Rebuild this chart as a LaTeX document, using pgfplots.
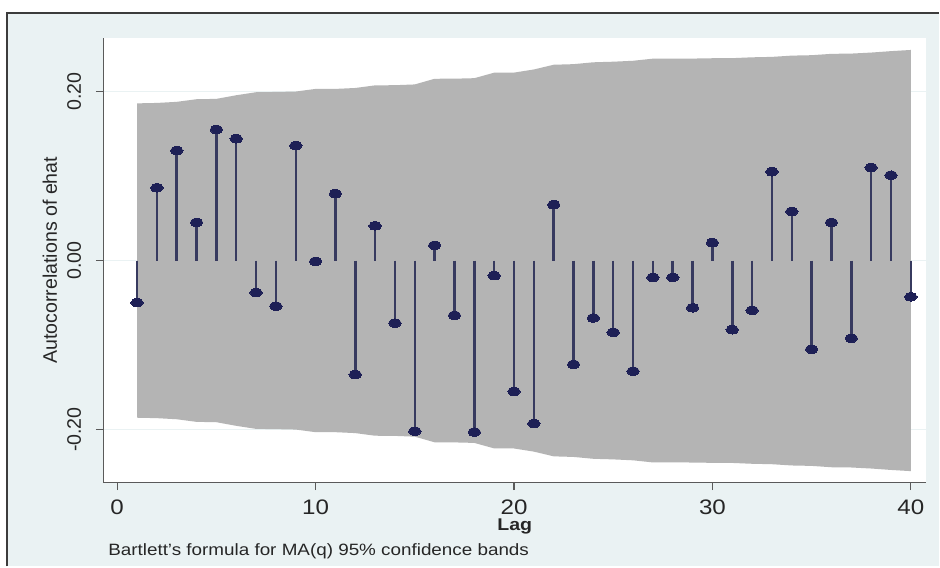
\documentclass[border=0pt]{standalone}
\usepackage{pgfplots}
\pgfplotsset{compat=1.18}
\usepackage{pgfplotstable}
\usepackage{graphicx}
\usepackage{fontspec}
\setmainfont{Liberation Sans}

\definecolor{bluish}{RGB}{234,242,243}
\definecolor{framegray}{RGB}{60,60,60}
\definecolor{axisgray}{RGB}{90,90,90}
\definecolor{bandgray}{RGB}{180,180,180}
\definecolor{markcol}{RGB}{30,32,86}
\definecolor{stemcol}{RGB}{55,58,95}

% autocorrelations
\pgfplotstableread{
lag acf
1 -0.050
2 0.086
3 0.130
4 0.045
5 0.155
6 0.144
7 -0.038
8 -0.054
9 0.136
10 -0.001
11 0.079
12 -0.135
13 0.041
14 -0.074
15 -0.202
16 0.018
17 -0.065
18 -0.203
19 -0.018
20 -0.155
21 -0.193
22 0.066
23 -0.123
24 -0.068
25 -0.085
26 -0.131
27 -0.020
28 -0.020
29 -0.056
30 0.021
31 -0.082
32 -0.059
33 0.105
34 0.058
35 -0.105
36 0.045
37 -0.092
38 0.110
39 0.101
40 -0.043
}\acfdata

% 95% confidence band outline: upper bound forward, lower bound back
\pgfplotstableread{
lag band
1 0.1860
2 0.1865
3 0.1878
4 0.1909
5 0.1913
6 0.1956
7 0.1992
8 0.1995
9 0.2000
10 0.2031
11 0.2031
12 0.2042
13 0.2073
14 0.2075
15 0.2084
16 0.2151
17 0.2152
18 0.2158
19 0.2223
20 0.2224
21 0.2261
22 0.2317
23 0.2324
24 0.2346
25 0.2353
26 0.2364
27 0.2389
28 0.2389
29 0.2390
30 0.2394
31 0.2395
32 0.2405
33 0.2410
34 0.2425
35 0.2430
36 0.2446
37 0.2449
38 0.2461
39 0.2478
40 0.2492
40 -0.2492
39 -0.2478
38 -0.2461
37 -0.2449
36 -0.2446
35 -0.2430
34 -0.2425
33 -0.2410
32 -0.2405
31 -0.2395
30 -0.2394
29 -0.2390
28 -0.2389
27 -0.2389
26 -0.2364
25 -0.2353
24 -0.2346
23 -0.2324
22 -0.2317
21 -0.2261
20 -0.2224
19 -0.2223
18 -0.2158
17 -0.2152
16 -0.2151
15 -0.2084
14 -0.2075
13 -0.2073
12 -0.2042
11 -0.2031
10 -0.2031
9 -0.2000
8 -0.1995
7 -0.1992
6 -0.1956
5 -0.1913
4 -0.1909
3 -0.1878
2 -0.1865
1 -0.1860
}\banddata

\begin{document}
\begin{tikzpicture}
\fill[white] (0,0) rectangle (470pt,283.5pt);
\fill[bluish] (3.5pt,0) rectangle (470pt,277pt);
\draw[framegray, line width=0.9pt] (3.5pt,0pt) -- (3.5pt,277pt) -- (470pt,277pt);
\begin{axis}[
  at={(51.75pt,42pt)}, anchor=south west,
  scale only axis, width=411.75pt, height=222.5pt,
  xmin=-0.695, xmax=40.77, ymin=-0.2627, ymax=0.2634,
  axis x line*=bottom, axis y line*=left,
  axis line style={axisgray, line width=0.8pt},
  axis background/.style={fill=white},
  xtick={0,10,20,30,40}, ytick={-0.2,0,0.2},
  tick align=outside, major tick length=3.75pt,
  tick style={axisgray, line width=0.6pt},
  /pgf/number format/assume math mode=true,
  xticklabel={\scalebox{1.15}[1]{\pgfmathprintnumber{\tick}}},
  xticklabel style={font=\fontsize{10.5}{12}\selectfont, text=black!85, anchor=base, yshift=-12pt},
  yticklabel={\pgfmathprintnumber[fixed,fixed zerofill,precision=2]{\tick}},
  yticklabel style={font=\fontsize{9.8}{11}\selectfont, text=black!85, rotate=90, anchor=base},
  yticklabel shift=7.5pt,
  ymajorgrids, grid style={bluish, line width=0.8pt},
  xlabel={\scalebox{1.15}[1]{\bfseries Lag}},
  xlabel style={at={(axis description cs:0.5,-0.1079)}, anchor=base, font=\fontsize{8.5}{10}\selectfont, text=black!85},
  ylabel={Autocorrelations of ehat},
  ylabel style={at={(axis description cs:-0.065,0.5)}, anchor=center, font=\fontsize{9.8}{11}\selectfont, text=black!85},
]
\addplot[fill=bandgray, draw=none] table[x=lag, y=band]{\banddata} -- cycle;
\addplot[ycomb, stemcol, line width=1.25pt, mark=*, mark size=2.1pt,
  mark options={fill=markcol, draw=markcol, xscale=1.5, line width=0pt}]
  table[x=lag, y=acf]{\acfdata};
\end{axis}
\node[anchor=base west, inner sep=0pt, font=\fontsize{8.2}{10}\selectfont, text=black!85]
  at (54pt,5.25pt) {\scalebox{1.15}[1]{Bartlett's formula for MA(q) 95\% confidence bands}};
\end{tikzpicture}
\end{document}
